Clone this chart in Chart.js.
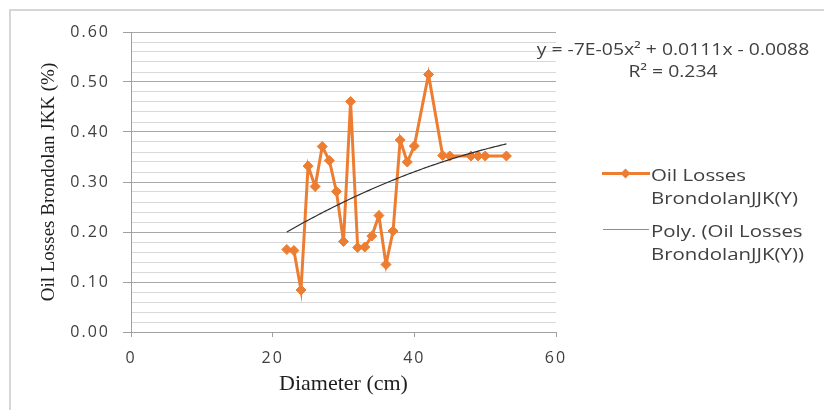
<!DOCTYPE html>
<html>
<head>
<meta charset="utf-8">
<script src="https://cdn.jsdelivr.net/npm/chart.js@4.4.1/dist/chart.umd.min.js"></script>
<style>
  html, body { margin: 0; padding: 0; background: #ffffff; }
  #wrap { position: relative; width: 824px; height: 410px; overflow: hidden; }
  #frame { position: absolute; left: 9px; top: 9px; width: 840px; height: 440px; border: 2px solid #d6d6d6; box-sizing: border-box; }
  canvas { position: absolute; left: 0; top: 0; }
  .txt { position: absolute; font-family: 'Open Sans', sans-serif; color: #404040; white-space: nowrap; }
  .eq { left: 513px; width: 320px; text-align: center; font-size: 16px; line-height: 22px; transform: scaleX(1.21); transform-origin: 160px 50%; }
  .leg { left: 651px; font-size: 17px; line-height: 23px; transform: scaleX(1.2); transform-origin: 0 50%; }
  .sw { position: absolute; height: 0; }
  .dia { position: absolute; width: 7px; height: 7px; background: #ED7D31; transform: rotate(45deg); }
</style>
</head>
<body>
<div id="wrap">
  <div id="frame"></div>
  <canvas id="c" width="824" height="410"></canvas>
  <div class="txt eq" style="top:37.5px;">y = -7E-05x² + 0.0111x - 0.0088</div>
  <div class="txt eq" style="top:59.5px;">R² = 0.234</div>
  <div class="sw" style="left:602px; top:172px; width:48px; border-top:3px solid #ED7D31;"></div>
  <div class="dia" style="left:622px; top:170px;"></div>
  <div class="txt leg" style="top:162.5px;">Oil Losses<br>BrondolanJJK(Y)</div>
  <div class="sw" style="left:603px; top:229px; width:46px; border-top:1.5px solid #8c8c8c;"></div>
  <div class="txt leg" style="top:218.5px;">Poly. (Oil Losses<br>BrondolanJJK(Y))</div>
</div>
<script>
// Diameter (cm)
const diameters = [22, 23, 24, 25, 26, 27, 28, 29, 30, 31, 32, 33, 34, 35, 36, 37, 38, 39, 40, 42, 44, 45, 48, 49, 50, 53];
// Oil Losses Brondolan JJK (%)
const oilLosses = [0.165, 0.163, 0.084, 0.332, 0.291, 0.371, 0.343, 0.281, 0.181, 0.461, 0.169, 0.170, 0.192, 0.233, 0.135, 0.202, 0.384, 0.340, 0.372, 0.515, 0.353, 0.352, 0.352, 0.352, 0.352, 0.352];
const seriesName = 'Oil Losses BrondolanJJK(Y)';
const trendName = 'Poly. (Oil Losses BrondolanJJK(Y))';
const xTicks = [0, 20, 40, 60];
const yTicks = [0.00, 0.10, 0.20, 0.30, 0.40, 0.50, 0.60];

// Quadratic least-squares trendline fitted to the data (like Excel's Poly. trendline)
function polyFit2(xs, ys) {
  let s = [0,0,0,0,0], t = [0,0,0];
  for (let i = 0; i < xs.length; i++) {
    const x = xs[i], y = ys[i];
    let p = 1;
    for (let k = 0; k < 5; k++) { s[k] += p; if (k < 3) t[k] += p * y; p *= x; }
  }
  const A = [[s[0], s[1], s[2], t[0]], [s[1], s[2], s[3], t[1]], [s[2], s[3], s[4], t[2]]];
  for (let i = 0; i < 3; i++) {
    for (let j = i + 1; j < 3; j++) {
      const f = A[j][i] / A[i][i];
      for (let k = i; k < 4; k++) A[j][k] -= f * A[i][k];
    }
  }
  const c = [0,0,0];
  for (let i = 2; i >= 0; i--) {
    let v = A[i][3];
    for (let k = i + 1; k < 3; k++) v -= A[i][k] * c[k];
    c[i] = v / A[i][i];
  }
  return c; // c0 + c1 x + c2 x^2
}
const coef = polyFit2(diameters, oilLosses);
const xMin = Math.min(...diameters), xMax = Math.max(...diameters);
const trend = [];
for (let x = xMin; x <= xMax + 1e-9; x += 0.5) trend.push({ x: x, y: coef[0] + coef[1] * x + coef[2] * x * x });

const points = diameters.map((d, i) => ({ x: d, y: oilLosses[i] }));
const isMajor = v => Math.abs(v * 10 - Math.round(v * 10)) < 1e-6;

// the tick labels of the reference are drawn wide: add a little letter spacing to tick labels only
function widenTickLabels(s) {
  if (s.__widened) return;
  const orig = s.drawLabels;
  s.drawLabels = function (area) {
    const ctx = this.ctx;
    const has = 'letterSpacing' in ctx;
    const prev = has ? ctx.letterSpacing : null;
    if (has) ctx.letterSpacing = '2px';
    orig.call(this, area);
    if (has) ctx.letterSpacing = prev || '0px';
  };
  s.__widened = true;
}

new Chart(document.getElementById('c'), {
  type: 'scatter',
  data: {
    datasets: [
      { label: seriesName, data: points, showLine: true, borderColor: '#ED7D31', backgroundColor: '#ED7D31',
        borderWidth: 3, pointStyle: 'rectRot', pointRadius: 5, pointBorderWidth: 1, tension: 0, order: 2 },
      { label: trendName, data: trend, showLine: true, borderColor: '#2e2e2e', borderWidth: 1.2,
        pointRadius: 0, tension: 0.3, order: 1 }
    ]
  },
  options: {
    responsive: false,
    animation: false,
    layout: { padding: { left: 10, right: 268, top: 32, bottom: 0 } },
    plugins: { legend: { display: false }, tooltip: { enabled: false } },
    scales: {
      x: {
        type: 'linear', min: 0, max: 60,
        afterBuildTicks: s => { s.ticks = xTicks.map(v => ({ value: v })); },
        ticks: { padding: 12, color: '#3f3f3f', font: { family: 'Open Sans', size: 16 } },
        grid: { drawOnChartArea: false, tickLength: 5, color: '#a0a0a0' },
        border: { color: '#a0a0a0', width: 1 },
        title: { display: true, text: 'Diameter (cm)', color: '#1e1e1e', font: { family: 'Liberation Serif', size: 22 }, padding: { top: 0, bottom: 12.5 } },
        afterFit: s => { s.height = 78; widenTickLabels(s); }
      },
      y: {
        type: 'linear', min: 0, max: 0.6,
        ticks: { stepSize: 0.02, maxTicksLimit: 100, autoSkip: false, padding: 13, color: '#3f3f3f',
          font: { family: 'Open Sans', size: 16 },
          callback: v => (isMajor(v) && yTicks.some(t => Math.abs(t - v) < 1e-6)) ? v.toFixed(2) : '' },
        grid: {
          color: c => isMajor(c.tick.value) ? '#a8a8a8' : '#d9d9d9',
          tickColor: c => isMajor(c.tick.value) ? '#a0a0a0' : 'rgba(0,0,0,0)',
          tickLength: 8, lineWidth: 1
        },
        border: { color: '#a0a0a0', width: 1 },
        title: { display: true, text: 'Oil Losses Brondolan JKK (%)', color: '#1e1e1e', font: { family: 'Liberation Serif', size: 19 }, padding: { top: 27.6, bottom: 0 } },
        afterFit: s => { s.width = 121; widenTickLabels(s); }
      }
    }
  }
});
</script>
</body>
</html>
